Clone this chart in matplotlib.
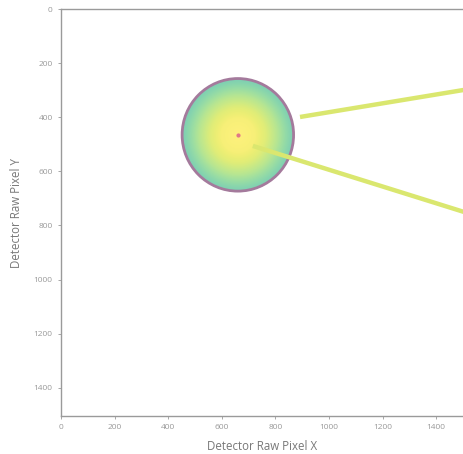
import numpy as np
import matplotlib
matplotlib.use("Agg")
import matplotlib.pyplot as plt
from matplotlib.patches import Circle

plt.rcParams['font.family'] = ['Open Sans', 'DejaVu Sans']

# detector geometry (raw pixels)
det_size = 1504
beam_center = (660, 465)
disc_radius = 208

# radial intensity profile of the disc: (r / R, level)
profile_r = [0.0, 0.3, 0.5, 0.7, 0.85, 1.0]
profile_level = [1.0, 0.98, 0.92, 0.82, 0.72, 0.62]

# the two straight traces leaving the disc
line1_x = [892, 1504]
line1_y = [399, 299]
line2_x = [716, 1504]
line2_y = [506, 750]

xticks = [0, 200, 400, 600, 800, 1000, 1200, 1400]
yticks = [0, 200, 400, 600, 800, 1000, 1200, 1400]

fig = plt.figure(figsize=(4.64, 4.54), dpi=100)
ax = fig.add_axes([61 / 464, 38 / 454, 403 / 464, 407 / 454])

# build the disc image
yy, xx = np.mgrid[0:det_size:2, 0:det_size:2]
rr = np.hypot(xx - beam_center[0], yy - beam_center[1]) / disc_radius
img = np.interp(rr, profile_r, profile_level)
img = np.where(rr <= 1.0, img, np.nan)
ax.imshow(img, cmap='viridis', vmin=0, vmax=1, alpha=0.6,
          extent=[0, det_size, det_size, 0], interpolation='bilinear')

ring = Circle(beam_center, disc_radius, fill=False, edgecolor='#a47a9c',
              linewidth=2.0)
ax.add_patch(ring)

ax.plot(line1_x, line1_y, color='#dae76f', linewidth=3.2, solid_capstyle='butt')
ax.plot(line2_x, line2_y, color='#dae76f', linewidth=3.2, solid_capstyle='butt')
ax.plot([beam_center[0]], [beam_center[1]], 'o', color='#e07888', markersize=2.0)

ax.set_xlim(0, det_size)
ax.set_ylim(det_size, 0)
ax.set_aspect('auto')
ax.set_xticks(xticks)
ax.set_yticks(yticks)
ax.tick_params(labelsize=6, colors='#999999', length=2.5, width=0.6)
for s in ax.spines.values():
    s.set_color('#9a9a9a')
    s.set_linewidth(1.0)
ax.spines['right'].set_color('#eeeeee')

ax.set_xlabel('Detector Raw Pixel X', fontsize=8.3, color='#777777', labelpad=6.5)
ax.set_ylabel('Detector Raw Pixel Y', fontsize=8.3, color='#777777', labelpad=7.5)

fig.savefig('out.png', dpi=100)
